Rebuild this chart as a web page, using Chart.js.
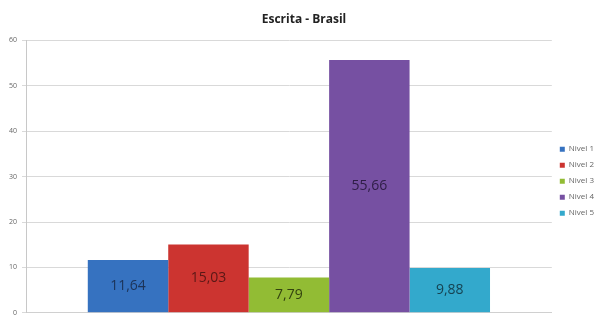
<!DOCTYPE html>
<html>
<head>
<meta charset="utf-8">
<script src="https://cdn.jsdelivr.net/npm/chart.js@4"></script>
<style>
  body { margin: 0; background: #fff; }
</style>
</head>
<body>
<canvas id="escrita" width="598" height="322"></canvas>
<script>
const categorias = [""];
const niveis = ["Nivel 1", "Nivel 2", "Nivel 3", "Nivel 4", "Nivel 5"];
const valores = [11.64, 15.03, 7.79, 55.66, 9.88];
const cores = ["#3672c0", "#cc3430", "#92bc34", "#7650a2", "#33a9cc"];
const coresClaras = ["#5d98e0", "#e85f5c", "#b4d95c", "#9573c2", "#5cc8e6"];
const coresTexto = ["#1c3358", "#5a1816", "#33430f", "#2e1d45", "#164352"];

// gradiente horizontal para imitar o efeito 3D do Excel
function gradiente(ctx, i) {
  const bar = ctx.chart.getDatasetMeta(i).data[0];
  if (!bar || !bar.width) return cores[i];
  const g = ctx.chart.ctx.createLinearGradient(bar.x - bar.width / 2, 0, bar.x + bar.width / 2, 0);
  g.addColorStop(0, cores[i]);
  g.addColorStop(0.45, coresClaras[i]);
  g.addColorStop(1, cores[i]);
  return g;
}

const rotulos = {
  id: "rotulos",
  afterDatasetsDraw(chart) {
    const ctx = chart.ctx;
    ctx.save();
    ctx.font = "14px 'Open Sans', sans-serif";
    ctx.textAlign = "center";
    ctx.textBaseline = "middle";
    chart.data.datasets.forEach((ds, i) => {
      const bar = chart.getDatasetMeta(i).data[0];
      ctx.fillStyle = coresTexto[i];
      ctx.fillText(ds.data[0].toFixed(2).replace(".", ","), bar.x, (bar.y + bar.base) / 2);
    });
    ctx.restore();
  },
};

const data = {
  labels: categorias,
  datasets: niveis.map((nivel, i) => ({
    label: nivel,
    data: [valores[i]],
    backgroundColor: (ctx) => gradiente(ctx, i),
    borderColor: cores[i],
    borderWidth: 0,
  })),
};

const config = {
  type: "bar",
  data: data,
  options: {
    responsive: false,
    animation: false,
    layout: { padding: { left: 4, right: -6, top: 0, bottom: -2 } },
    datasets: {
      bar: { categoryPercentage: 0.765, barPercentage: 1 },
    },
    plugins: {
      title: {
        display: true,
        text: "Escrita - Brasil",
        color: "#222",
        font: { family: "'Open Sans', sans-serif", size: 12, weight: "bold" },
        padding: { top: 12, bottom: 14 },
      },
      legend: {
        position: "right",
        title: { display: true, text: " ", font: { size: 7 }, padding: 15 },
        labels: {
          boxWidth: 5,
          boxHeight: 5,
          padding: 8,
          color: "#555",
          font: { family: "'Open Sans', sans-serif", size: 8 },
          generateLabels(chart) {
            return niveis.map((nivel, i) => ({
              text: nivel,
              fillStyle: cores[i],
              strokeStyle: cores[i],
              lineWidth: 0,
              datasetIndex: i,
            }));
          },
        },
      },
      tooltip: { enabled: false },
    },
    scales: {
      x: {
        ticks: { display: false },
        grid: { display: false },
        border: { color: "#d0d0d0" },
      },
      y: {
        min: 0,
        max: 60,
        ticks: {
          stepSize: 10,
          color: "#666",
          padding: 5,
          font: { family: "'Open Sans', sans-serif", size: 7 },
        },
        grid: { color: "#d9d9d9", tickLength: 4 },
        border: { color: "#c8c8c8" },
      },
    },
  },
  plugins: [rotulos],
};

const escrita_chart = new Chart(document.getElementById("escrita"), config);
</script>
</body>
</html>
